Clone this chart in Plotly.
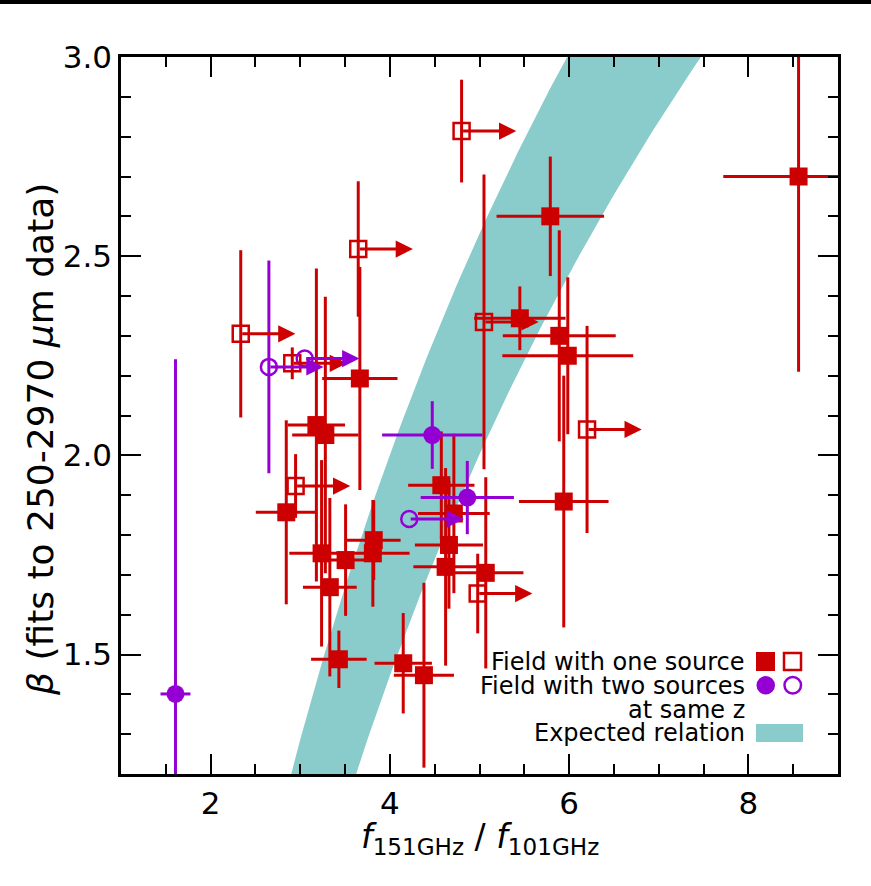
import plotly.graph_objects as go

# ---- fields with one source: detected ratios (filled squares) ----
one_x    = [8.56, 5.79, 5.45, 5.89, 5.985, 3.665, 3.18, 3.28, 4.574, 5.94, 2.844, 4.714,
            3.82, 3.81, 4.659, 3.238, 3.506, 4.622, 5.07, 3.33, 3.431, 4.149, 4.38]
one_y    = [2.70, 2.60, 2.344, 2.30, 2.25, 2.193, 2.076, 2.051, 1.925, 1.884, 1.857, 1.854,
            1.787, 1.754, 1.775, 1.754, 1.737, 1.72, 1.705, 1.669, 1.488, 1.478, 1.448]
one_xerr = [0.84, 0.60, 0.51, 0.63, 0.73, 0.42, 0.32, 0.37, 0.37, 0.50, 0.34, 0.40,
            0.30, 0.41, 0.38, 0.36, 0.25, 0.36, 0.42, 0.30, 0.31, 0.32, 0.335]
one_yerr = [0.49, 0.15, 0.08, 0.265, 0.197, 0.28, 0.393, 0.347, 0.135, 0.316, 0.231, 0.20,
            0.10, 0.134, 0.16, 0.234, 0.14, 0.248, 0.24, 0.224, 0.072, 0.126, 0.232]

# ---- fields with one source: lower limits on the ratio (open squares) ----
one_lim_x    = [4.80, 3.647, 2.336, 5.05, 2.911, 6.20, 2.948, 4.98]
one_lim_y    = [2.814, 2.518, 2.305, 2.335, 2.231, 2.065, 1.923, 1.653]
one_lim_yerr = [0.129, 0.17, 0.21, 0.37, 0.04, 0.26, 0.08, 0.10]

# ---- fields with two sources at the same redshift ----
two_x    = [1.608, 4.473, 4.864]
two_y    = [1.401, 2.051, 1.894]
two_xerr = [0.167, 0.56, 0.52]
two_yerr = [0.84, 0.085, 0.092]

two_lim_x    = [2.65, 3.05, 4.216]
two_lim_y    = [2.222, 2.243, 1.840]
two_lim_yerr = [0.267, 0.0, 0.0]

# ---- expected relation: power law between 101 and 151 GHz ----
NU_LO, NU_HI = 101.0, 151.0
BAND_LOW_FACTOR = 0.80          # lower envelope of the expected ratio
beta_grid = [1.10 + 0.02 * i for i in range(101)]

RED = "#CC0000"
PURPLE = "#9400D3"
TEAL = "#8ACCCC"
FONT = "DejaVu Sans"
ARROW_LEN = 0.61                 # length of limit arrows in ratio units

W, H = 871, 886
ML, MR, MT, MB = 121, 33, 57, 112
PW, PH = W - ML - MR, H - MT - MB


def px(xp):
    return (xp - ML) / PW


def py(yp):
    return (H - MB - yp) / PH


fig = go.Figure()

ratio_hi = [(NU_HI / NU_LO) ** (2 + b) for b in beta_grid]
ratio_lo = [BAND_LOW_FACTOR * r for r in ratio_hi]
fig.add_trace(go.Scatter(
    x=ratio_lo + ratio_hi[::-1], y=beta_grid + beta_grid[::-1],
    fill="toself", fillcolor=TEAL, line=dict(width=0), mode="lines",
    hoverinfo="skip", showlegend=False))

fig.add_trace(go.Scatter(
    x=one_x, y=one_y, mode="markers",
    marker=dict(symbol="square", size=18, color=RED),
    error_x=dict(type="data", array=one_xerr, color=RED, thickness=3, width=0),
    error_y=dict(type="data", array=one_yerr, color=RED, thickness=3, width=0),
    showlegend=False))

fig.add_trace(go.Scatter(
    x=one_lim_x, y=one_lim_y, mode="markers",
    marker=dict(symbol="square-open", size=16, color=RED, line=dict(width=2.5, color=RED)),
    error_y=dict(type="data", array=one_lim_yerr, color=RED, thickness=3, width=0),
    showlegend=False))

fig.add_trace(go.Scatter(
    x=two_x, y=two_y, mode="markers",
    marker=dict(symbol="circle", size=18, color=PURPLE),
    error_x=dict(type="data", array=two_xerr, color=PURPLE, thickness=3, width=0),
    error_y=dict(type="data", array=two_yerr, color=PURPLE, thickness=3, width=0),
    showlegend=False))

fig.add_trace(go.Scatter(
    x=two_lim_x, y=two_lim_y, mode="markers",
    marker=dict(symbol="circle-open", size=16, color=PURPLE, line=dict(width=2.5, color=PURPLE)),
    error_y=dict(type="data", array=two_lim_yerr, color=PURPLE, thickness=3, width=0),
    showlegend=False))

annotations = []
# arrows marking lower limits on the flux ratio
for xs, ys, col in [(one_lim_x, one_lim_y, RED), (two_lim_x, two_lim_y, PURPLE)]:
    for x0, y0 in zip(xs, ys):
        annotations.append(dict(
            x=x0 + ARROW_LEN, y=y0, ax=x0, ay=y0, xref="x", yref="y", axref="x", ayref="y",
            text="", showarrow=True, arrowhead=2, arrowsize=1.15, arrowwidth=3,
            arrowcolor=col, standoff=0, startstandoff=0))

# axis titles
annotations.append(dict(
    x=px(480), y=py(838), xref="paper", yref="paper", showarrow=False,
    text="<i>f</i><sub>151GHz</sub> / <i>f</i><sub>101GHz</sub>",
    font=dict(family=FONT, size=33, color="black"), xanchor="center", yanchor="middle"))
annotations.append(dict(
    x=px(40), y=py(440), xref="paper", yref="paper", showarrow=False, textangle=-90,
    text="<i>β</i> (fits to 250-2970 <i>μ</i>m data)",
    font=dict(family=FONT, size=36, color="black"), xanchor="center", yanchor="middle"))

# legend text
legend_rows = [("Field with one source", 661.5), ("Field with two sources", 685.5),
               ("at same z", 709.5), ("Expected relation", 733)]
for txt, yp in legend_rows:
    annotations.append(dict(
        x=px(747), y=py(yp), xref="paper", yref="paper", showarrow=False, text=txt,
        font=dict(family=FONT, size=24, color="black"), xanchor="right", yanchor="middle"))

shapes = [
    # dark strip along the top of the canvas
    dict(type="rect", xref="paper", yref="paper", x0=px(-5), x1=px(W + 5),
         y0=py(4), y1=py(-5), fillcolor="black", line=dict(width=0), layer="above"),
    # legend glyphs
    dict(type="rect", xref="paper", yref="paper", x0=px(756), x1=px(775),
         y0=py(671), y1=py(652), fillcolor=RED, line=dict(width=0)),
    dict(type="rect", xref="paper", yref="paper", x0=px(784), x1=px(801),
         y0=py(670), y1=py(653), fillcolor="rgba(0,0,0,0)", line=dict(color=RED, width=2.5)),
    dict(type="circle", xref="paper", yref="paper", x0=px(756.5), x1=px(775),
         y0=py(694.5), y1=py(676), fillcolor=PURPLE, line=dict(width=0)),
    dict(type="circle", xref="paper", yref="paper", x0=px(784.5), x1=px(801),
         y0=py(693.5), y1=py(677), fillcolor="rgba(0,0,0,0)", line=dict(color=PURPLE, width=2.5)),
    dict(type="rect", xref="paper", yref="paper", x0=px(756), x1=px(803),
         y0=py(742), y1=py(724), fillcolor=TEAL, line=dict(width=0)),
]

axis_common = dict(
    showline=True, linewidth=2.5, linecolor="black", mirror="allticks",
    ticks="inside", ticklen=20, tickwidth=2, tickcolor="black",
    showgrid=False, zeroline=False,
    tickfont=dict(family=FONT, size=31, color="black"))

fig.update_xaxes(range=[1, 9], tick0=0, dtick=2,
                 minor=dict(dtick=0.5, ticklen=10, tickwidth=2, tickcolor="black", ticks="inside"),
                 **axis_common)
fig.update_yaxes(range=[1.2, 3.0], tick0=0, dtick=0.5, tickformat=".1f",
                 minor=dict(dtick=0.1, ticklen=10, tickwidth=2, tickcolor="black", ticks="inside"),
                 **axis_common)

fig.update_layout(
    width=W, height=H, margin=dict(l=ML, r=MR, t=MT, b=MB, autoexpand=False),
    paper_bgcolor="white", plot_bgcolor="white",
    font=dict(family=FONT, color="black"),
    annotations=annotations, shapes=shapes, showlegend=False)

fig.write_html("out.html")
